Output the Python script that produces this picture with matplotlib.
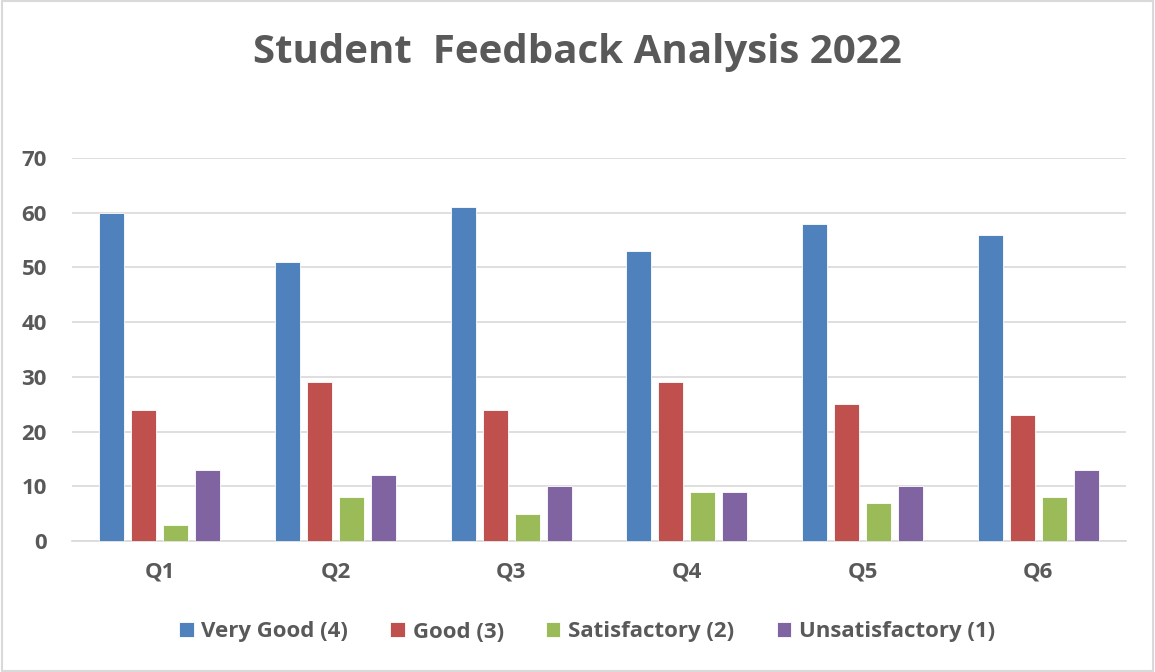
import numpy as np
import matplotlib.pyplot as plt
from matplotlib.patches import Rectangle

# feedback counts per question
questions = ['Q1', 'Q2', 'Q3', 'Q4', 'Q5', 'Q6']
very_good = [60, 51, 61, 53, 58, 56]
good = [24, 29, 24, 29, 25, 23]
satisfactory = [3, 8, 5, 9, 7, 8]
unsatisfactory = [13, 12, 10, 9, 10, 13]

series_names = ['Very Good (4)', 'Good (3)', 'Satisfactory (2)', 'Unsatisfactory (1)']
colors = ['#4F81BD', '#C0504D', '#9BBB59', '#8064A2']
text_color = '#595959'

plt.rcParams['font.family'] = ['Open Sans', 'DejaVu Sans']

fig = plt.figure(figsize=(11.55, 6.72), dpi=100)
ax = fig.add_axes([72/1155, 1-541/672, (1126-72)/1155, (541-158)/672])

x = np.arange(len(questions))
width = 0.142
pitch = 0.182
all_series = [very_good, good, satisfactory, unsatisfactory]
for i, (vals, name, c) in enumerate(zip(all_series, series_names, colors)):
    ax.bar(x + (i - 1.5) * pitch, vals, width, color=c, label=name,
           edgecolor='#FFFFFF', linewidth=0.6, zorder=3)

ax.set_xlim(-0.5, len(questions) - 0.5)
ax.set_ylim(0, 70)
ax.set_yticks(range(0, 71, 10))
ax.set_xticks(x)
ax.set_xticklabels(questions)
ax.grid(axis='y', color='#D9D9D9', linewidth=1.2, zorder=0)
for s in ['top', 'right', 'left']:
    ax.spines[s].set_visible(False)
ax.spines['bottom'].set_color('#D9D9D9')
ax.spines['bottom'].set_linewidth(1.2)
ax.tick_params(axis='both', length=0, labelsize=16, labelcolor=text_color)
ax.tick_params(axis='y', pad=18)
ax.tick_params(axis='x', pad=15)
for lbl in ax.get_xticklabels() + ax.get_yticklabels():
    lbl.set_fontweight('bold')

fig.text(0.5, 1-52/672, 'Student  Feedback Analysis 2022', ha='center', va='center',
         fontsize=29, fontweight='bold', color=text_color)

leg = fig.legend(loc='center', bbox_to_anchor=(587/1155, 1-632/672), ncol=4,
                 frameon=False, fontsize=16, handlelength=0.65, handleheight=0.65,
                 handletextpad=0.35, columnspacing=1.9)
for t in leg.get_texts():
    t.set_color(text_color)
    t.set_fontweight('bold')

# chart border
fig.patches.append(Rectangle((0.002, 0.002), 0.996, 0.996, transform=fig.transFigure,
                             fill=False, edgecolor='#D9D9D9', linewidth=1.5))

fig.savefig('out.png', dpi=100)
